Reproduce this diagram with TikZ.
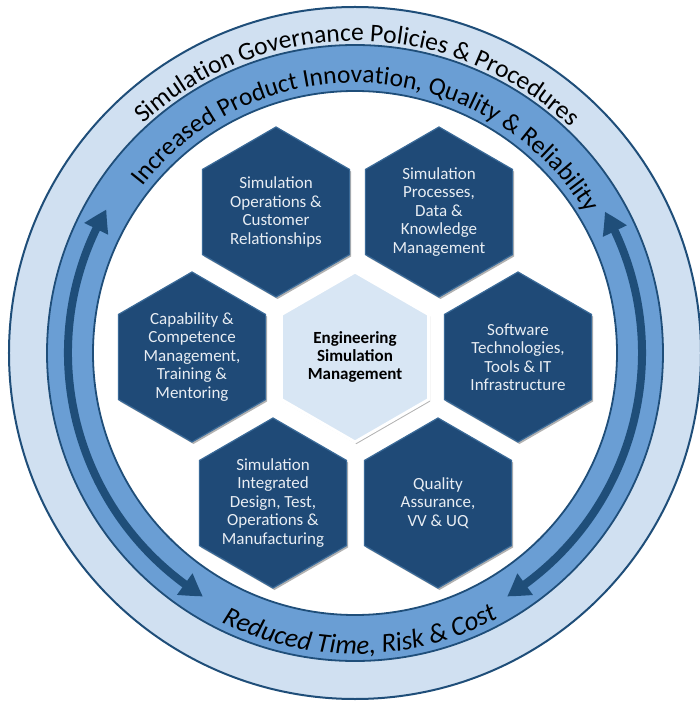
\documentclass[tikz,border=0pt]{standalone}
\usepackage{fontspec}
\setmainfont{Carlito}
\usetikzlibrary{shapes.geometric,decorations.text,arrows.meta,shadows,bending}
\definecolor{lightband}{HTML}{D0E0F1}
\definecolor{midband}{HTML}{6A9ED4}
\definecolor{ringline}{HTML}{1F4E79}
\definecolor{hexdark}{HTML}{1F4A77}
\definecolor{hexedge}{HTML}{3A6A98}
\definecolor{hextext}{HTML}{E8EDF3}
\definecolor{centerfill}{HTML}{D8E6F4}
\newcommand\bandfnt{\fontsize{25.5}{30}\selectfont}
\newcommand\bandfntit{\fontsize{27}{30}\selectfont\itshape}
\begin{document}
\begin{tikzpicture}[x=1pt,y=1pt,
  hexbase/.style={regular polygon, regular polygon sides=6, shape border rotate=30,
    minimum size=170pt, inner sep=1pt, align=center,
    font=\fontsize{17}{18.5}\selectfont},
  hexdarkbox/.style={hexbase, fill=hexdark, draw=hexedge, line width=1.2pt, text=hextext,
    drop shadow={shadow xshift=1.5pt, shadow yshift=-2pt, opacity=0.3, fill=black}},
  hexcenter/.style={hexbase, fill=centerfill, draw=white, line width=3pt, text=black,
    font=\fontsize{17}{18}\selectfont\bfseries,
    drop shadow={shadow xshift=1.5pt, shadow yshift=-2pt, opacity=0.3, fill=black}},
  ringarrow/.style={draw=ringline, line width=8pt, {Triangle[width=25pt,length=22pt,bend]}-{Triangle[width=25pt,length=22pt,bend]}},
  bandtext/.style={decorate, decoration={text along path, text align=center}}
]
\useasboundingbox (-355,-348) rectangle (344,353);
% rings
\coordinate (c) at (0,0);
\fill[lightband, draw=ringline, line width=2pt] (c) circle[radius=346];
\fill[midband, draw=ringline, line width=1.8pt] (c) circle[radius=308];
\fill[white, draw=ringline, line width=1.8pt] (c) circle[radius=262];
% arrows
\coordinate (la) at (150:287);
\coordinate (ra) at (29.5:287);
\draw[ringarrow] (la) arc[start angle=150, end angle=238, radius=287];
\draw[ringarrow] (ra) arc[start angle=29.5, end angle=-58, radius=287];
% band texts
\path[decorate, decoration={text along path, text align=center,
  text={|\bandfnt|Simulation Governance Policies {\&} Procedures}}]
  (160:312) arc[start angle=160, end angle=19, radius=312];
\path[decorate, decoration={text along path, text align=center,
  text={|\bandfnt|Increased Product Innovation, Quality {\&} Reliability}}]
  (166:270) arc[start angle=166, end angle=7, radius=270];
\path[decorate, decoration={text along path, text align=center,
  text={|\bandfntit|Reduced Time, Risk {\&} Cost}}]
  (200:301) arc[start angle=200, end angle=342, radius=301];
% hexagons
\node[hexcenter] (ctr) at (0,-4) {Engineering\\Simulation\\Management};
\node[hexdarkbox] (tl) at (-79,141) {Simulation\\Operations \&\\Customer\\Relationships};
\node[hexdarkbox] (tr) at (84,141) {Simulation\\Processes,\\Data \&\\Knowledge\\Management};
\node[hexdarkbox] (lf) at (-163,-4) {Capability \&\\Competence\\Management,\\Training \&\\Mentoring};
\node[hexdarkbox] (rt) at (163,-4) {Software\\Technologies,\\Tools \& IT\\Infrastructure};
\node[hexdarkbox] (bl) at (-82,-150) {Simulation\\Integrated\\Design, Test,\\Operations \&\\Manufacturing};
\node[hexdarkbox] (br) at (83,-150) {Quality\\Assurance,\\VV \& UQ};
\end{tikzpicture}
\end{document}
